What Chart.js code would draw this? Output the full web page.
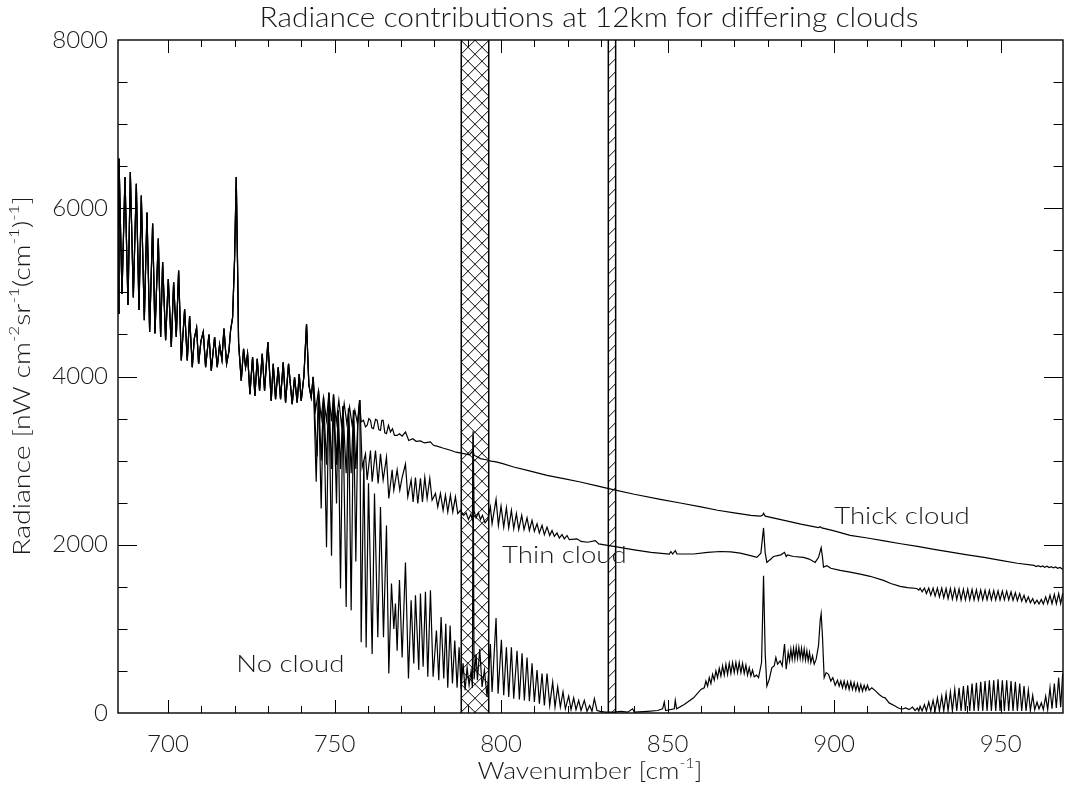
<!DOCTYPE html>
<html>
<head>
<meta charset="utf-8">
<script src="https://cdn.jsdelivr.net/npm/chart.js@4/dist/chart.umd.min.js"></script>
<style>
  html, body { margin: 0; padding: 0; background: #fff; }
  canvas { display: block; }
</style>
</head>
<body>
<canvas id="spec" width="1065" height="785" style="width:1065px;height:785px"></canvas>
<script>
// ── Spectrum data: [wavenumber cm-1, radiance] ──
// below ~743 cm-1 the three cases lie on top of each other
const sharedStart = [
  [685.0,4750],[685.3,6590],[686.2,4980],[687.1,6370],[688.0,4850],[688.7,6430],[689.6,4940],[690.5,6290],
  [691.3,4790],[692.0,6150],[692.9,4670],[693.7,5950],[694.5,4530],[695.4,5820],[696.1,4510],[697.1,5640],
  [697.8,4470],[698.4,5360],[699.3,4430],[700.1,5160],[701.0,4350],[701.7,5120],[702.5,4470],[703.2,5260],
  [704.0,4190],[705.0,4800],[705.8,4190],[706.5,4720],[707.3,4110],[707.9,4450],[708.6,4580],[709.2,4150],
  [709.9,4420],[710.6,4530],[711.3,4110],[712.3,4500],[713.0,4070],[714.0,4470],[714.8,4110],[715.5,4380],
  [716.2,4200],[716.8,4570],[717.6,4150],[718.3,4300],[718.8,4550],[719.4,4700],[720.0,5400],[720.5,6370],
  [720.9,5300],[721.2,4400],[722.0,3950],[722.7,4330],[723.3,4110],[723.9,4270],[724.6,3790],[725.4,4230],
  [726.1,3770],[726.8,4210],[727.5,3830],[728.3,4270],[729.0,3830],[730.0,4410],[731.0,3710],[731.6,4150],
  [732.3,3730],[733.1,4110],[733.8,3730],[734.6,4170],[735.3,3690],[736.2,4150],[737.3,3670],[738.0,3990],
  [738.8,3690],[739.4,4030],[740.0,3710],[740.8,4000],[741.6,4620],[742.3,3900],[743.0,3750],[743.6,3995]
];

const noCloudTail = [
  [744.5,2750],[745.2,3830],[746.0,2430],[746.7,3750],[747.6,1970],[748.3,3810],[749.1,1870],[749.7,3790],
  [750.6,2490],[751.1,3600],[751.8,1480],[752.5,3650],[753.5,1260],[754.2,3620],[755.0,1220],[755.7,3600],
  [756.4,1800],[757.0,3450],[757.6,3720],[758.0,840],[758.8,3000],[759.5,780],[760.2,2730],[761.3,700],
  [762.0,2610],[763.0,900],[763.8,2450],[764.7,900],[765.6,2230],[766.3,470],[767.1,1540],[767.8,1000],
  [768.3,1300],[768.8,740],[769.5,1580],[770.3,660],[771.3,1790],[772.2,410],[773.0,1340],[773.8,590],
  [774.3,1400],[775.3,510],[775.8,1420],[776.6,550],[777.3,1440],[778.0,430],[778.8,1460],[779.6,430],
  [780.6,980],[781.3,390],[782.0,1140],[782.8,410],[783.4,1060],[784.0,300],[784.7,1040],[785.4,350],
  [786.1,860],[786.8,300],[787.4,780],[788.0,290],[788.6,590],[789.2,270],[789.8,540],[790.4,330],
  [791.0,500],[791.4,300],[791.6,3300],[791.9,400],[792.5,700],[792.9,390],[793.6,760],[794.3,310],
  [795.0,510],[795.8,190],[796.8,820],[797.3,250],[798.5,1130],[799.1,230],[800.1,870],[800.8,210],
  [801.6,780],[802.3,190],[803.1,780],[803.8,170],[804.8,740],[805.5,160],[806.3,710],[807.0,150],
  [807.8,660],[808.5,140],[809.3,590],[810.0,130],[810.8,510],[811.5,110],[812.3,470],[813.0,90],
  [813.8,470],[814.6,90],[815.5,370],[816.2,70],[817.0,310],[817.8,70],[818.6,250],[819.3,50],
  [820.3,200],[821.0,40],[821.8,180],[822.5,40],[823.3,150],[824.0,30],[825.0,150],[825.8,20],
  [826.6,90],[827.3,20],[828.0,170],[828.8,30],[829.8,20],[831.3,10],[834.0,10],[836.0,20],
  [838.0,10],[839.5,50],[840.0,10],[844.0,20],[847.0,30],[848.5,50],[849.0,130],[849.4,30],
  [852.0,50],[852.3,150],[852.7,50],[855.0,100],[857.8,180],[860.0,280],
  [861.0,300],[861.5,380],[862.0,320],[862.5,420],[863.0,350],[863.5,460],[864.0,390],[864.5,500],
  [865.0,420],[865.5,530],[866.0,440],[866.5,560],[867.0,450],[867.5,580],[868.0,460],[868.5,590],
  [869.0,470],[869.5,600],[870.0,480],[870.5,600],[871.0,480],[871.5,600],[872.0,480],[872.5,590],
  [873.0,470],[873.5,570],[874.0,450],[874.5,540],[875.0,440],[875.5,510],[876.0,430],[876.7,450],
  [877.3,420],[878.2,600],[878.8,1630],[879.3,700],[879.8,320],[880.5,400],[881.3,540],[882.0,560],
  [882.5,660],[883.0,580],[883.8,620],[884.4,560],[885.1,820],[885.6,520],[886.2,720],[886.6,620],
  [887.0,760],[887.4,640],[887.8,770],[888.2,640],[888.6,780],[889.0,650],[889.4,780],[889.8,650],
  [890.2,770],[890.6,640],[891.0,760],[891.4,630],[891.8,740],[892.2,620],[892.6,720],[893.0,600],
  [893.5,680],[894.0,580],[894.6,640],[895.3,800],[895.8,1100],[896.1,1180],[896.5,900],[897.0,420],
  [897.6,480],[898.3,460],[899.0,380],[899.6,420],[900.3,330],[901.0,390],[901.5,320],[902.0,380],
  [902.5,300],[903.0,380],[903.5,290],[904.0,370],[904.5,280],[905.0,370],[905.5,280],[906.0,360],
  [906.5,270],[907.0,350],[907.5,260],[908.0,340],[908.5,260],[909.0,330],[909.5,270],[910.0,330],
  [910.5,270],[911.3,300],[912.5,260],[913.5,220],[914.5,190],[915.3,180],[916.5,120],[918.0,90],
  [919.3,60],[920.3,45],[921.5,60],[922.5,40],[923.5,70],[924.3,30],[925.0,60],[925.4,25],
  [925.8,80],[926.4,25],[927.1,100],[927.7,25],[928.4,130],[929.0,25],[929.7,150],[930.3,25],
  [931.0,180],[931.6,25],[932.3,200],[932.9,25],[933.6,230],[934.2,25],[934.9,250],[935.5,25],
  [936.2,280],[936.8,25],[937.5,300],[938.1,25],[938.8,320],[939.4,25],[940.1,330],[940.7,25],
  [941.4,350],[942.0,25],[942.7,360],[943.3,25],[944.0,370],[944.6,25],[945.3,380],[945.9,25],
  [946.6,390],[947.2,25],[947.9,390],[948.5,25],[949.2,400],[949.8,25],[950.5,390],[951.1,25],
  [951.8,390],[952.4,25],[953.1,380],[953.7,25],[954.4,370],[955.0,25],[955.7,350],[956.3,25],
  [957.0,320],[957.6,25],[958.3,270],[958.9,30],[959.6,210],[960.2,40],[960.9,130],[961.5,50],
  [962.2,120],[962.8,40],[963.5,200],[964.1,40],[964.8,300],[965.4,50],[966.1,350],[966.7,60],
  [967.4,420],[968.0,70],[968.6,470]
];

const thinCloudTail = [
  [744.3,3350],[744.8,3050],[745.2,3830],[746.0,3000],[746.7,3750],[747.6,2950],[748.3,3810],[749.1,2900],
  [749.7,3790],[750.6,2950],[751.1,3600],[751.8,2900],[752.5,3650],[753.5,2850],[754.2,3620],[755.0,2850],
  [755.7,3600],[756.4,2900],[757.0,3450],[757.6,3720],[758.3,2920],[759.3,3080],[759.8,2770],[760.8,3120],
  [761.3,2750],[762.3,3120],[763.1,2730],[763.8,3080],[764.6,2770],[765.6,3040],[766.3,2550],[767.3,2890],
  [767.8,2650],[768.8,2890],[769.6,2650],[770.3,2800],[771.3,2960],[772.0,2570],[773.0,2770],[773.6,2510],
  [774.3,2800],[775.0,2490],[775.8,2790],[776.4,2510],[777.1,2800],[777.8,2550],[778.6,2790],[779.3,2530],
  [780.3,2610],[781.0,2450],[781.8,2610],[782.6,2410],[783.3,2590],[784.0,2390],[784.8,2590],[785.5,2390],
  [786.3,2570],[787.0,2370],[787.8,2410],[788.8,2350],[789.5,2380],[790.2,2300],[790.9,2360],[791.4,2300],
  [791.6,3350],[791.9,2400],[792.5,2320],[793.2,2380],[793.8,2300],[794.4,2350],[795.2,2260],[796.0,2300],
  [796.8,2450],[797.3,2250],[798.5,2540],[799.2,2230],[800.0,2460],[800.8,2210],[801.6,2440],[802.3,2200],
  [803.1,2410],[803.8,2190],[804.6,2370],[805.3,2180],[806.2,2350],[806.9,2180],[807.8,2320],[808.5,2170],
  [809.3,2290],[810.0,2160],[810.8,2250],[811.5,2140],[812.3,2230],[813.0,2120],[813.8,2210],[814.6,2110],
  [815.3,2170],[816.0,2100],[816.8,2140],[817.5,2080],[818.3,2120],[819.0,2070],[819.8,2110],[820.5,2060],
  [822.8,2070],[824.0,2040],[826.0,2030],[828.3,2050],[829.3,2010],[833.8,1980],[840.0,1940],[845.0,1910],
  [850.5,1890],[851.0,1920],[851.5,1890],[852.3,1930],[852.8,1890],[857.8,1890],[862.0,1910],[865.8,1920],
  [869.0,1915],[871.8,1900],[874.0,1880],[876.8,1850],[878.0,1900],[878.8,2200],[879.3,1900],[879.8,1790],
  [881.0,1830],[881.8,1860],[884.0,1880],[885.1,1910],[885.6,1860],[886.0,1880],[887.8,1860],[890.8,1850],
  [892.5,1830],[894.3,1790],[895.3,1850],[896.1,1965],[896.5,1850],[896.8,1735],[897.8,1750],[899.0,1720],
  [901.8,1695],[904.8,1675],[907.8,1650],[910.8,1625],[914.8,1576],[917.0,1540],[919.8,1505],[922.0,1490],
  [924.8,1480],[925.4,1460],[925.8,1485],[926.4,1440],[927.1,1485],[927.7,1420],[928.4,1485],[929.0,1400],
  [929.7,1485],[930.3,1390],[931.0,1485],[931.6,1380],[932.3,1485],[932.9,1370],[933.6,1480],[934.2,1360],
  [934.9,1480],[935.5,1355],[936.2,1478],[936.8,1350],[937.5,1475],[938.1,1345],[938.8,1472],[939.4,1345],
  [940.1,1470],[940.7,1345],[941.4,1468],[942.0,1345],[942.7,1465],[943.3,1345],[944.0,1462],[944.6,1345],
  [945.3,1460],[945.9,1345],[946.6,1458],[947.2,1345],[947.9,1455],[948.5,1345],[949.2,1452],[949.8,1345],
  [950.5,1450],[951.1,1345],[951.8,1448],[952.4,1345],[953.1,1440],[953.7,1340],[954.4,1430],[955.0,1335],
  [955.7,1420],[956.3,1330],[957.0,1400],[957.6,1320],[958.3,1380],[958.9,1310],[959.6,1360],[960.2,1300],
  [960.9,1340],[961.5,1295],[962.2,1350],[962.8,1295],[963.5,1380],[964.1,1300],[964.8,1400],[965.4,1300],
  [966.1,1410],[966.7,1300],[967.4,1420],[968.0,1300],[968.6,1420]
];

const thickCloudTail = [
  [744.3,3600],[745.2,3830],[746.0,3500],[746.7,3750],[747.6,3480],[748.3,3800],[749.1,3470],[749.7,3780],
  [750.5,3450],[751.3,3720],[752.1,3420],[752.9,3680],[753.7,3440],[754.5,3640],[755.3,3420],[756.1,3600],
  [756.9,3440],[757.5,3720],[758.0,3460],[758.7,3480],[759.3,3400],[759.8,3420],[760.3,3500],[760.8,3480],
  [761.2,3390],[761.7,3380],[762.3,3490],[762.8,3480],[763.3,3370],[763.8,3360],[764.2,3480],[764.6,3480],
  [765.1,3330],[765.6,3320],[766.2,3420],[766.8,3340],[767.4,3380],[768.0,3300],[768.8,3300],[769.5,3320],
  [770.3,3290],[771.3,3340],[772.3,3240],[773.5,3260],[774.5,3230],[775.8,3234],[777.0,3210],[778.8,3222],
  [779.7,3182],[781.0,3170],[782.5,3150],[784.8,3123],[786.5,3100],[788.8,3084],[790.5,3070],[791.6,3120],
  [791.9,3065],[793.8,3024],[795.5,3010],[797.0,2995],[798.5,2985],[800.5,2965],[803.8,2924],[808.8,2875],
  [813.8,2825],[818.8,2785],[823.8,2746],[828.8,2700],[833.3,2659],[840.0,2600],[847.8,2540],[853.8,2496],
  [860.0,2450],[865.0,2410],[870.0,2380],[875.0,2350],[877.8,2341],[878.5,2350],[878.8,2375],[879.3,2340],
  [885.0,2290],[890.0,2245],[895.3,2205],[895.8,2215],[896.3,2200],[900.0,2165],[904.8,2112],[910.0,2080],
  [915.0,2045],[920.0,2012],[925.0,1980],[930.0,1945],[935.0,1912],[940.0,1880],[945.0,1850],[950.0,1815],
  [955.0,1780],[960.0,1755],[960.6,1740],[961.3,1752],[961.9,1737],[962.6,1748],[963.2,1733],[963.9,1744],
  [964.5,1729],[965.2,1740],[965.8,1725],[966.5,1736],[967.1,1720],[967.8,1730],[968.6,1710]
];

// shaded wavenumber windows
const crossBand = [788.05, 796.3];
const slashBand = [832.2, 834.4];

const xRange = [685, 968.7];
const yRange = [0, 8000];

// ── Look ──
const FONT = 'Lato, "Open Sans", sans-serif';
const INK = '#1a1a1a';

const noCloud = sharedStart.concat(noCloudTail);
const thinCloud = sharedStart.concat(thinCloudTail);
const thickCloud = sharedStart.concat(thickCloudTail);

// text made of plain and superscript runs, stretched to a given width
function richText(ctx, parts, x, y, size, width) {
  const widths = parts.map(([t, sup]) => {
    ctx.font = '300 ' + (sup ? size * 0.6 : size) + 'px ' + FONT;
    return ctx.measureText(t).width;
  });
  const total = widths.reduce((a, b) => a + b, 0);
  const sx = width ? width / total : 1;
  ctx.save();
  ctx.translate(x, y);
  ctx.scale(sx, 1);
  let cx = -total / 2;
  ctx.textBaseline = 'alphabetic';
  ctx.textAlign = 'left';
  parts.forEach(([t, sup], i) => {
    ctx.font = '300 ' + (sup ? size * 0.6 : size) + 'px ' + FONT;
    ctx.fillText(t, cx, sup ? -size * 0.45 : 0);
    cx += widths[i];
  });
  ctx.restore();
}

const idlFrame = {
  id: 'idlFrame',
  afterDatasetsDraw(chart) {
    const ctx = chart.ctx;
    const a = chart.chartArea;
    const xs = chart.scales.x, ys = chart.scales.y;
    ctx.save();

    // hatched windows
    ctx.strokeStyle = '#000';
    const band = (lo, hi, dirs, step) => {
      const x0 = xs.getPixelForValue(lo), x1 = xs.getPixelForValue(hi);
      ctx.save();
      ctx.beginPath(); ctx.rect(x0, a.top, x1 - x0, a.bottom - a.top); ctx.clip();
      ctx.lineWidth = 1;
      ctx.beginPath();
      const w = x1 - x0;
      dirs.forEach(d => {
        for (let yy = a.top - w - step; yy < a.bottom + w + step; yy += step) {
          if (d > 0) { ctx.moveTo(x0, yy + w); ctx.lineTo(x1, yy); }
          else { ctx.moveTo(x0, yy); ctx.lineTo(x1, yy + w); }
        }
      });
      ctx.stroke();
      ctx.restore();
      ctx.lineWidth = 1.5;
      ctx.beginPath();
      ctx.moveTo(x0, a.top); ctx.lineTo(x0, a.bottom);
      ctx.moveTo(x1, a.top); ctx.lineTo(x1, a.bottom);
      ctx.stroke();
    };
    band(crossBand[0], crossBand[1], [1, -1], 14);
    band(slashBand[0], slashBand[1], [1], 13);

    // box + inward ticks on all four sides
    ctx.lineWidth = 1.4;
    ctx.strokeRect(a.left, a.top, a.right - a.left, a.bottom - a.top);
    ctx.lineWidth = 1;
    ctx.beginPath();
    xs.ticks.forEach(t => {
      const v = t.value;
      if (v <= xRange[0] || v >= xRange[1] || Math.abs(v / 10 - Math.round(v / 10)) > 1e-6) return;
      const px = Math.round(xs.getPixelForValue(v)) + 0.5;
      const len = v % 50 === 0 ? 13 : 7;
      ctx.moveTo(px, a.bottom); ctx.lineTo(px, a.bottom - len);
      ctx.moveTo(px, a.top); ctx.lineTo(px, a.top + len);
    });
    ys.ticks.forEach(t => {
      const v = t.value;
      if (v <= yRange[0] || v >= yRange[1]) return;
      const py = Math.round(ys.getPixelForValue(v)) + 0.5;
      const len = v % 2000 === 0 ? 19 : 9.5;
      ctx.moveTo(a.left, py); ctx.lineTo(a.left + len, py);
      ctx.moveTo(a.right, py); ctx.lineTo(a.right - len, py);
    });
    ctx.stroke();

    // curve labels
    ctx.fillStyle = INK;
    ctx.textAlign = 'left';
    ctx.textBaseline = 'middle';
    ctx.font = '300 24px ' + FONT;
    [['Thick cloud', 900, 2340], ['Thin cloud', 800.3, 1870], ['No cloud', 720.5, 575]].forEach(([t, wx, wy]) => {
      ctx.save();
      ctx.translate(xs.getPixelForValue(wx), ys.getPixelForValue(wy));
      ctx.scale(1.15, 1);
      ctx.fillText(t, 0, 0);
      ctx.restore();
    });

    // title and axis titles
    richText(ctx, [['Radiance contributions at 12km for differing clouds', false]], 589, 27, 27, 659);
    richText(ctx, [['Wavenumber [cm', false], ['-1', true], [']', false]], 590, 779, 24, 225);

    ctx.save();
    ctx.translate(30, 376);
    ctx.rotate(-Math.PI / 2);
    richText(ctx, [['Radiance [nW cm', false], ['-2', true], ['sr', false], ['-1', true],
                   ['(cm', false], ['-1', true], [')', false], ['-1', true], [']', false]], 0, 0, 24, 360);
    ctx.restore();

    ctx.restore();
  }
};

const lineDs = (label, data) => ({
  label, data,
  borderColor: '#000', borderWidth: 1.2,
  pointRadius: 0, tension: 0, fill: false
});

new Chart(document.getElementById('spec'), {
  type: 'line',
  data: {
    datasets: [
      lineDs('Thick cloud', thickCloud),
      lineDs('Thin cloud', thinCloud),
      lineDs('No cloud', noCloud)
    ]
  },
  options: {
    responsive: false,
    devicePixelRatio: 1,
    animation: false,
    layout: { padding: { left: 0, right: 2, top: 40, bottom: 0 } },
    plugins: { legend: { display: false }, tooltip: { enabled: false } },
    scales: {
      x: {
        type: 'linear', min: xRange[0], max: xRange[1],
        grid: { display: false, drawTicks: false }, border: { display: false },
        ticks: {
          stepSize: 10, autoSkip: false, maxRotation: 0, padding: 17,
          color: INK, font: { family: FONT, size: 24, weight: 300 },
          callback: v => (v % 50 === 0 ? String(v) : '')
        },
        afterFit: s => { s.height = 72; s.paddingLeft = 0; s.paddingRight = 0; }
      },
      y: {
        min: yRange[0], max: yRange[1],
        grid: { display: false, drawTicks: false }, border: { display: false },
        ticks: {
          stepSize: 500, autoSkip: false, padding: 10,
          color: INK, font: { family: FONT, size: 24, weight: 300 },
          callback: v => (v % 2000 === 0 ? String(v) : '')
        },
        afterFit: s => { s.width = 118; s.paddingTop = 0; s.paddingBottom = 0; }
      }
    }
  },
  plugins: [idlFrame]
});
</script>
</body>
</html>
